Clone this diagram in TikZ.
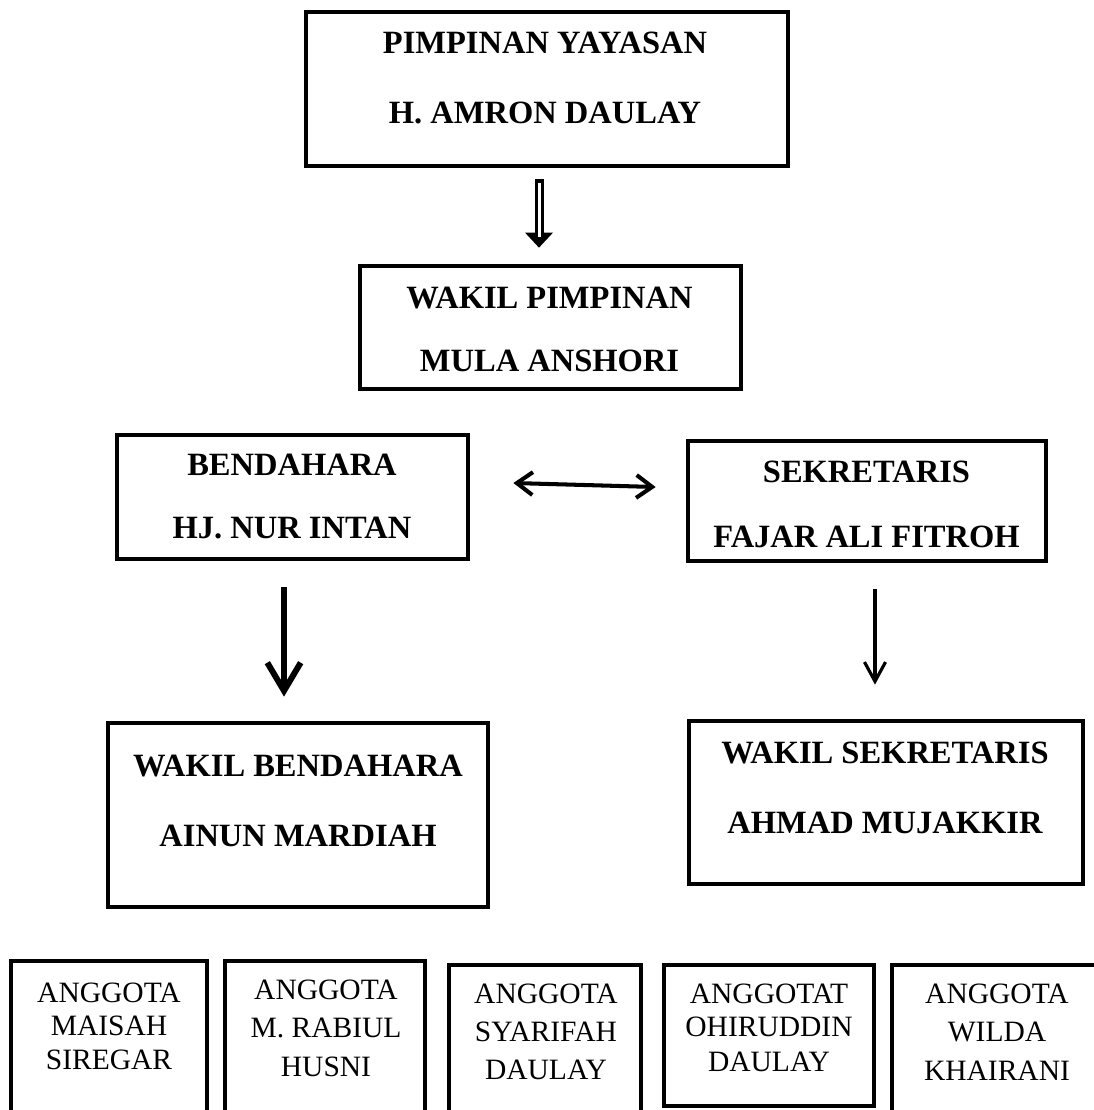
\documentclass[tikz,border=0pt]{standalone}
\usepackage{fontspec}
\setmainfont{Liberation Serif}
\usetikzlibrary{arrows.meta,calc}
\newlength\pxu
\setlength\pxu{0.02cm}
\begin{document}
\begin{tikzpicture}[x=0.02cm,y=-0.02cm,
  box/.style={draw,line width=2.7pt,inner sep=0pt},
  bt/.style={inner sep=0pt,font=\fontsize{18.5}{20}\selectfont\bfseries,text height=12.5pt,text depth=0pt},
  rt/.style={inner sep=0pt,font=\fontsize{16.8}{18}\selectfont,text height=11.1pt,text depth=0pt},
  dbl/.style={line width=2.3pt,{Straight Barb[length=9pt,width=13pt]}-{Straight Barb[length=9pt,width=13pt]}},
  thickarr/.style={line width=3.4pt,-{Straight Barb[length=16pt,width=19pt]}},
  thinarr/.style={line width=1.8pt,-{Straight Barb[length=11pt,width=12pt]}}]
\useasboundingbox (0,0) rectangle (1094,1110);
\clip (0,0) rectangle (1094,1110);

% boxes
\node[box,minimum width=482\pxu,minimum height=154\pxu] (top) at (547,89) {};
\node[box,minimum width=381\pxu,minimum height=123\pxu] (wp) at (550.5,327.5) {};
\node[box,minimum width=351\pxu,minimum height=124\pxu] (bend) at (292.5,497) {};
\node[box,minimum width=358\pxu,minimum height=120\pxu] (sek) at (867,501) {};
\node[box,minimum width=380\pxu,minimum height=184\pxu] (wb) at (298,815) {};
\node[box,minimum width=394\pxu,minimum height=163\pxu] (ws) at (886,802.5) {};
\node[box,minimum width=196\pxu,minimum height=162\pxu] (a1) at (109,1042) {};
\node[box,minimum width=200\pxu,minimum height=162\pxu] (a2) at (325,1042) {};
\node[box,minimum width=192\pxu,minimum height=158\pxu] (a3) at (545,1044) {};
\node[box,minimum width=210\pxu,minimum height=141\pxu] (a4) at (769,1035.5) {};
\node[box,minimum width=210\pxu,minimum height=158\pxu] (a5) at (997,1044) {};

% texts
\node[bt] (t1a) at (545,43) {PIMPINAN YAYASAN};
\node[bt] (t1b) at (545,113) {H. AMRON DAULAY};
\node[bt] (t2a) at (549.5,298) {WAKIL PIMPINAN};
\node[bt] (t2b) at (549.5,361) {MULA ANSHORI};
\node[bt] (t3a) at (292,465) {BENDAHARA};
\node[bt] (t3b) at (292,528) {HJ. NUR INTAN};
\node[bt] (t4a) at (866.5,472) {SEKRETARIS};
\node[bt] (t4b) at (866.5,537) {FAJAR ALI FITROH};
\node[bt] (t5a) at (298,766) {WAKIL BENDAHARA};
\node[bt] (t5b) at (298,836) {AINUN MARDIAH};
\node[bt] (t6a) at (885,753) {WAKIL SEKRETARIS};
\node[bt] (t6b) at (885,823) {AHMAD MUJAKKIR};

\node[rt] (a1a) at (109,993) {ANGGOTA};
\node[rt] (a1b) at (109,1026) {MAISAH};
\node[rt] (a1c) at (109,1060) {SIREGAR};
\node[rt] (a2a) at (326,990) {ANGGOTA};
\node[rt] (a2b) at (326,1028) {M. RABIUL};
\node[rt] (a2c) at (326,1067) {HUSNI};
\node[rt] (a3a) at (546,994) {ANGGOTA};
\node[rt] (a3b) at (546,1032) {SYARIFAH};
\node[rt] (a3c) at (546,1070) {DAULAY};
\node[rt] (a4a) at (769,994) {ANGGOTAT};
\node[rt] (a4b) at (769,1027) {OHIRUDDIN};
\node[rt] (a4c) at (769,1062) {DAULAY};
\node[rt] (a5a) at (997,994) {ANGGOTA};
\node[rt] (a5b) at (997,1032) {WILDA};
\node[rt] (a5c) at (997,1071) {KHAIRANI};

% hollow arrow top -> wp
\coordinate (ha) at ($(top.south)+(-8,11)$);
\coordinate (hb) at ($(wp.north)+(-11.5,-31)$);
\coordinate (ht) at ($(wp.north)+(-11.5,-16)$);
\fill ($(ha)+(-4.5,0)$) rectangle ($(hb)+(4.5,0)$);
\fill ($(hb)+(-14,0)$) -- ($(hb)+(14,0)$) -- (ht) -- cycle;
\fill[white] ($(ha)+(-1.5,4)$) rectangle ($(hb)+(1.5,4)$);

% double arrow bend <-> sek
\draw[dbl] ($(bend.east)+(43,-14)$) -- ($(sek.west)+(-30,-14)$);

% down arrows
\draw[thickarr] ($(bend.south)+(-8.5,26)$) -- ($(wb.north)+(-14,-24)$);
\draw[thinarr] ($(sek.south)+(8,26)$) -- ($(ws.north)+(-11,-34)$);
\end{tikzpicture}
\end{document}
